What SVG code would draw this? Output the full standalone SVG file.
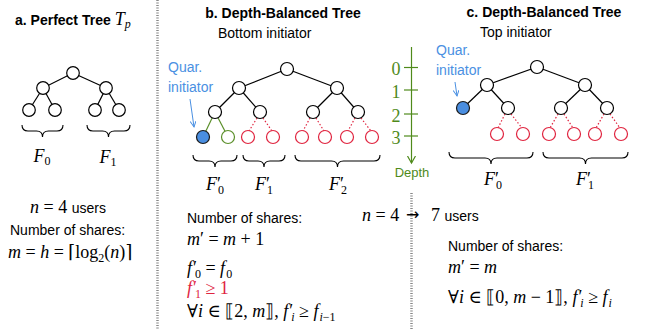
<svg xmlns="http://www.w3.org/2000/svg" width="647" height="330" viewBox="0 0 647 330">
<style>
.s{font-family:"Liberation Sans",Arial,sans-serif;font-size:14px;fill:#000}
.b{font-weight:bold}
.m{font-family:"Liberation Serif","DejaVu Serif",serif;font-size:18px;fill:#000}
.i{font-style:italic}
.sub{font-size:12px}
.blue{fill:#4a90e2}
.green{fill:#4f8a1b}
.red{fill:#e0243f}
.n{fill:#fff;stroke:#000;stroke-width:1.2}
.nb{fill:#4a8ee0;stroke:#1a1a1a;stroke-width:1.2}
.ng{fill:#fff;stroke:#5a8f29;stroke-width:1.2}
.nr{fill:#fff;stroke:#e0243f;stroke-width:1.2}
.e{stroke:#000;stroke-width:1.2;fill:none}
.eg{stroke:#5a8f29;stroke-width:1.2;fill:none}
.er{stroke:#e0243f;stroke-width:1.2;stroke-dasharray:1.5 2;fill:none}
.br{fill:none;stroke:#000;stroke-width:1.1}
.sep{stroke:#888;stroke-width:2.5;stroke-dasharray:1 1.5;fill:none}
</style>
<defs>
<marker id="ab" markerWidth="8" markerHeight="8" refX="6" refY="3" orient="auto" markerUnits="userSpaceOnUse">
<path d="M0,0 L6,3 L0,6" fill="none" stroke="#4a90e2" stroke-width="1"/>
</marker>
<marker id="ag" markerWidth="10" markerHeight="10" refX="7" refY="4" orient="auto" markerUnits="userSpaceOnUse">
<path d="M0,0 L7,4 L0,8" fill="none" stroke="#4f8a1b" stroke-width="1.2"/>
</marker>
</defs>

<g id="separators">
<line class="sep" x1="157.5" y1="0" x2="157.5" y2="330"/>
<line class="sep" x1="411.5" y1="193" x2="411.5" y2="330"/>
</g>

<g id="connectors">
<line class="e" x1="73" y1="73" x2="43" y2="88"/>
<line class="e" x1="73" y1="73" x2="106" y2="88"/>
<line class="e" x1="43" y1="88" x2="29" y2="110"/>
<line class="e" x1="43" y1="88" x2="55" y2="110"/>
<line class="e" x1="106" y1="88" x2="95" y2="110"/>
<line class="e" x1="106" y1="88" x2="119" y2="110"/>
<line class="e" x1="287" y1="69" x2="239" y2="88"/>
<line class="e" x1="287" y1="69" x2="337" y2="88"/>
<line class="e" x1="239" y1="88" x2="215" y2="112"/>
<line class="e" x1="239" y1="88" x2="260" y2="112"/>
<line class="e" x1="337" y1="88" x2="313" y2="112"/>
<line class="e" x1="337" y1="88" x2="358" y2="112"/>
<line class="eg" x1="215" y1="112" x2="203" y2="137"/>
<line class="eg" x1="215" y1="112" x2="228" y2="137"/>
<line class="er" x1="257" y1="118" x2="249" y2="131"/>
<line class="er" x1="263" y1="118" x2="272" y2="131"/>
<line class="er" x1="310" y1="118" x2="303" y2="131"/>
<line class="er" x1="316" y1="118" x2="324" y2="131"/>
<line class="er" x1="355" y1="118" x2="348" y2="131"/>
<line class="er" x1="361" y1="118" x2="371" y2="131"/>
<line class="e" x1="537" y1="67" x2="487" y2="85"/>
<line class="e" x1="537" y1="67" x2="585" y2="85"/>
<line class="e" x1="487" y1="85" x2="463" y2="108"/>
<line class="e" x1="487" y1="85" x2="508" y2="108"/>
<line class="e" x1="585" y1="85" x2="561" y2="108"/>
<line class="e" x1="585" y1="85" x2="607" y2="108"/>
<line class="er" x1="505" y1="114" x2="498" y2="128"/>
<line class="er" x1="511" y1="114" x2="522" y2="128"/>
<line class="er" x1="558" y1="114" x2="550" y2="128"/>
<line class="er" x1="564" y1="114" x2="573" y2="128"/>
<line class="er" x1="604" y1="114" x2="596" y2="128"/>
<line class="er" x1="610" y1="114" x2="620" y2="128"/>
<path d="M190,99 L194,127" stroke="#4a90e2" stroke-width="1" fill="none" marker-end="url(#ab)"/>
<path d="M455,82 L457,96" stroke="#4a90e2" stroke-width="1" fill="none" marker-end="url(#ab)"/>
<path class="br" d="M22,125 q0,6 6,6 H36.5 q6,0 6,6 q0,-6 6,-6 H57 q6,0 6,-6"/>
<path class="br" d="M87,125 q0,6 6,6 H102.5 q6,0 6,6 q0,-6 6,-6 H124 q6,0 6,-6"/>
<path class="br" d="M193,155 q0,6 6,6 H209 q6,0 6,6 q0,-6 6,-6 H231 q6,0 6,-6"/>
<path class="br" d="M243,155 q0,6 6,6 H258 q6,0 6,6 q0,-6 6,-6 H279 q6,0 6,-6"/>
<path class="br" d="M295,155 q0,6 6,6 H331.5 q6,0 6,6 q0,-6 6,-6 H374 q6,0 6,-6"/>
<path class="br" d="M449,152 q0,6 6,6 H485 q6,0 6,6 q0,-6 6,-6 H527 q6,0 6,-6"/>
<path class="br" d="M543,152 q0,6 6,6 H579.5 q6,0 6,6 q0,-6 6,-6 H622 q6,0 6,-6"/>
</g>

<g id="tree-a">
<circle class="n" cx="73" cy="73" r="6.3"/>
<circle class="n" cx="43" cy="88" r="6.3"/>
<circle class="n" cx="106" cy="88" r="6.3"/>
<circle class="n" cx="29" cy="110" r="6.3"/>
<circle class="n" cx="55" cy="110" r="6.3"/>
<circle class="n" cx="95" cy="110" r="6.3"/>
<circle class="n" cx="119" cy="110" r="6.3"/>
</g>

<g id="tree-b">
<circle class="n" cx="287" cy="69" r="6.5"/>
<circle class="n" cx="239" cy="88" r="6.5"/>
<circle class="n" cx="337" cy="88" r="6.5"/>
<circle class="n" cx="215" cy="112" r="6.5"/>
<circle class="n" cx="260" cy="112" r="6.5"/>
<circle class="n" cx="313" cy="112" r="6.5"/>
<circle class="n" cx="358" cy="112" r="6.5"/>
<circle class="nb" cx="203" cy="137" r="6.5"/>
<circle class="ng" cx="228" cy="137" r="6.5"/>
<circle class="nr" cx="248" cy="137" r="6.5"/>
<circle class="nr" cx="273" cy="137" r="6.5"/>
<circle class="nr" cx="302" cy="137" r="6.5"/>
<circle class="nr" cx="325" cy="137" r="6.5"/>
<circle class="nr" cx="347" cy="137" r="6.5"/>
<circle class="nr" cx="372" cy="137" r="6.5"/>
</g>

<g id="tree-c">
<circle class="n" cx="537" cy="67" r="6.5"/>
<circle class="n" cx="487" cy="85" r="6.5"/>
<circle class="n" cx="585" cy="85" r="6.5"/>
<circle class="nb" cx="463" cy="108" r="6.5"/>
<circle class="n" cx="508" cy="108" r="6.5"/>
<circle class="n" cx="561" cy="108" r="6.5"/>
<circle class="n" cx="607" cy="108" r="6.5"/>
<circle class="nr" cx="497" cy="134" r="6.5"/>
<circle class="nr" cx="523" cy="134" r="6.5"/>
<circle class="nr" cx="549" cy="134" r="6.5"/>
<circle class="nr" cx="574" cy="134" r="6.5"/>
<circle class="nr" cx="595" cy="134" r="6.5"/>
<circle class="nr" cx="621" cy="134" r="6.5"/>
</g>

<g id="depth-axis">
<line x1="411.5" y1="47" x2="411.5" y2="163" stroke="#4f8a1b" stroke-width="1.2" marker-end="url(#ag)"/>
<line x1="404" y1="67.5" x2="418" y2="67.5" stroke="#4f8a1b" stroke-width="1.2"/>
<line x1="404" y1="90" x2="418" y2="90" stroke="#4f8a1b" stroke-width="1.2"/>
<line x1="404" y1="114" x2="418" y2="114" stroke="#4f8a1b" stroke-width="1.2"/>
<line x1="404" y1="136" x2="418" y2="136" stroke="#4f8a1b" stroke-width="1.2"/>
<text class="m green" x="396" y="75" text-anchor="middle">0</text>
<text class="m green" x="396" y="97.5" text-anchor="middle">1</text>
<text class="m green" x="396" y="121.5" text-anchor="middle">2</text>
<text class="m green" x="396" y="143.5" text-anchor="middle">3</text>
<text class="s green" x="412" y="177" text-anchor="middle" style="font-size:13px">Depth</text>
</g>

<g id="panel-a-text">
<text x="15" y="25"><tspan class="s b">a. Perfect Tree </tspan><tspan class="m i">T</tspan><tspan class="m i sub" dy="3">p</tspan></text>
<text class="m" x="42" y="162" text-anchor="middle"><tspan class="i">F</tspan><tspan class="sub" dy="3">0</tspan></text>
<text class="m" x="108" y="163" text-anchor="middle"><tspan class="i">F</tspan><tspan class="sub" dy="3">1</tspan></text>
<text x="30" y="213"><tspan class="m i">n</tspan><tspan class="m"> = 4 </tspan><tspan class="s">users</tspan></text>
<text class="s" x="10" y="235">Number of shares:</text>
<text class="m" x="8" y="258"><tspan class="i">m</tspan> = <tspan class="i">h</tspan> = ⌈log<tspan class="sub" dy="4">2</tspan><tspan dy="-4">(</tspan><tspan class="i">n</tspan>)⌉</text>
</g>

<g id="panel-b-text">
<text class="s b" x="283" y="18" text-anchor="middle">b. Depth-Balanced Tree</text>
<text class="s" x="218" y="38">Bottom initiator</text>
<text class="s blue" x="168" y="72">Quar.</text>
<text class="s blue" x="168" y="92">initiator</text>
<text class="m" x="215" y="190" text-anchor="middle"><tspan class="i">F</tspan>′<tspan class="sub" dx="-3" dy="4">0</tspan></text>
<text class="m" x="264" y="190" text-anchor="middle"><tspan class="i">F</tspan>′<tspan class="sub" dx="-3" dy="4">1</tspan></text>
<text class="m" x="338" y="190" text-anchor="middle"><tspan class="i">F</tspan>′<tspan class="sub" dx="-3" dy="4">2</tspan></text>
<text class="s" x="187" y="223">Number of shares:</text>
<text class="m" x="187" y="245"><tspan class="i">m</tspan>′ =  <tspan class="i">m</tspan> + 1</text>
<text class="m" x="187" y="274"><tspan class="i">f</tspan><tspan dx="1">′</tspan><tspan class="sub" dx="-2" dy="4">0</tspan><tspan dy="-4"> = </tspan><tspan class="i">f</tspan><tspan class="sub" dx="1" dy="4">0</tspan></text>
<text class="m red" x="187" y="294"><tspan class="i">f</tspan><tspan dx="1">′</tspan><tspan class="sub" dx="-2" dy="4">1</tspan><tspan dy="-4"> ≥ 1</tspan></text>
<text class="m" x="187" y="317">∀<tspan class="i">i</tspan> ∈ ⟦2, <tspan class="i">m</tspan>⟧, <tspan class="i">f</tspan><tspan dx="1">′</tspan><tspan class="sub i" dx="-2" dy="4">i</tspan><tspan dy="-4"> ≥ </tspan><tspan class="i">f</tspan><tspan class="sub" dx="1" dy="4"><tspan class="i">i</tspan>−1</tspan></text>
</g>

<g id="center-text">
<text x="362" y="221"><tspan class="m i">n</tspan><tspan class="m"> = 4</tspan></text>
<text x="406" y="220" style="font-family:'DejaVu Sans',sans-serif;font-size:16px">→</text>
<text x="431" y="221"><tspan class="m">7 </tspan><tspan class="s">users</tspan></text>
</g>

<g id="panel-c-text">
<text class="s b" x="544" y="17" text-anchor="middle">c. Depth-Balanced Tree</text>
<text class="s" x="480" y="37">Top initiator</text>
<text class="s blue" x="436" y="55">Quar.</text>
<text class="s blue" x="436" y="75">initiator</text>
<text class="m" x="493" y="185" text-anchor="middle"><tspan class="i">F</tspan>′<tspan class="sub" dx="-3" dy="4">0</tspan></text>
<text class="m" x="585" y="185" text-anchor="middle"><tspan class="i">F</tspan>′<tspan class="sub" dx="-3" dy="4">1</tspan></text>
<text class="s" x="448" y="251">Number of shares:</text>
<text class="m" x="448" y="273"><tspan class="i">m</tspan>′ =  <tspan class="i">m</tspan></text>
<text class="m" x="448" y="303">∀<tspan class="i">i</tspan> ∈ ⟦0, <tspan class="i">m</tspan> − 1⟧, <tspan class="i">f</tspan><tspan dx="1">′</tspan><tspan class="sub i" dx="-2" dy="4">i</tspan><tspan dy="-4"> ≥ </tspan><tspan class="i">f</tspan><tspan class="sub i" dx="1" dy="4">i</tspan></text>
</g>
</svg>
